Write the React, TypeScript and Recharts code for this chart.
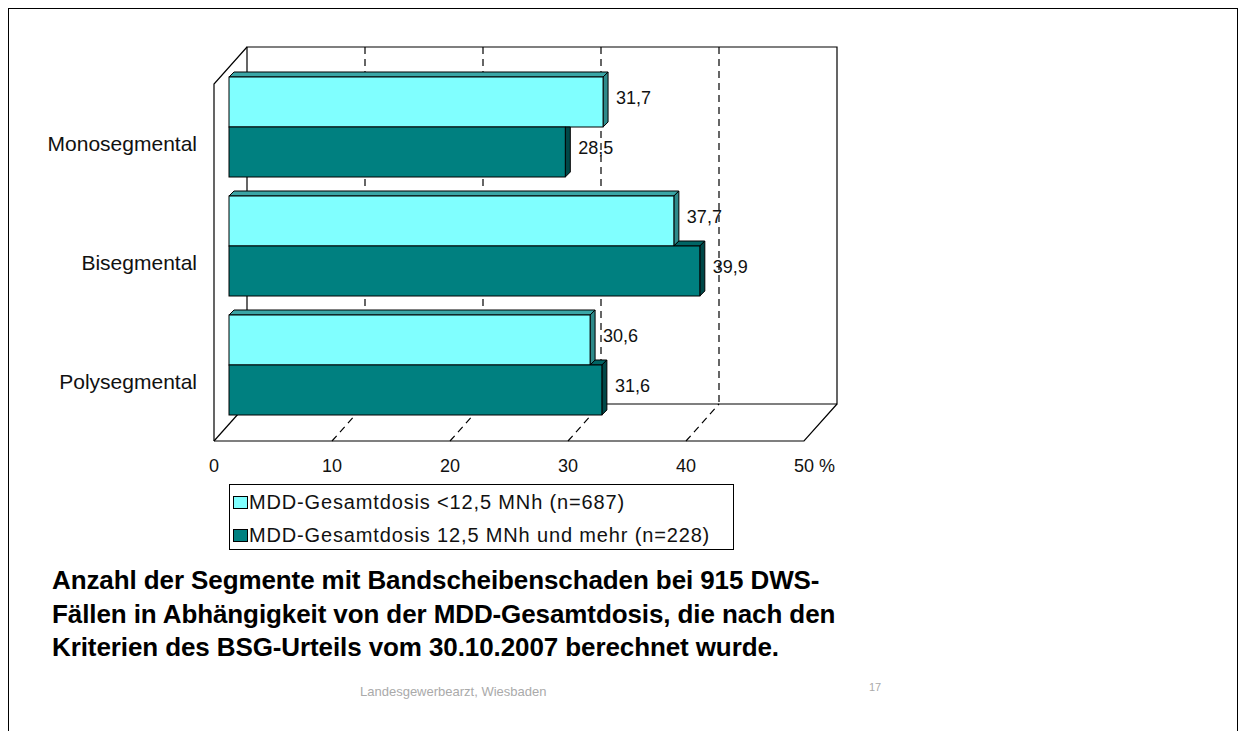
import React from "react";
import {
  BarChart,
  Bar,
  XAxis,
  YAxis,
  LabelList,
  Customized,
} from "recharts";

const CATEGORIES = ["Monosegmental", "Bisegmental", "Polysegmental"];
const LOW_DOSE = [31.7, 37.7, 30.6];
const HIGH_DOSE = [28.5, 39.9, 31.6];
const SERIES_NAMES = [
  "MDD-Gesamtdosis <12,5 MNh (n=687)",
  "MDD-Gesamtdosis 12,5 MNh und mehr (n=228)",
];
const X_TICKS = [0, 10, 20, 30, 40, 50];
const TITLE_LINES = [
  "Anzahl der Segmente mit Bandscheibenschaden bei 915 DWS-",
  "Fällen in Abhängigkeit von der MDD-Gesamtdosis, die nach den",
  "Kriterien des BSG-Urteils vom 30.10.2007 berechnet wurde.",
];
const FOOTER = "Landesgewerbearzt, Wiesbaden";
const PAGE_NO = "17";

const data = CATEGORIES.map((name, i) => ({
  name,
  low: LOW_DOSE[i],
  high: HIGH_DOSE[i],
}));

const FONT = "'Liberation Sans', Arial, sans-serif";

// plot box of the chart (the "middle" depth of the 3d box)
const W = 1243;
const H = 731;
const PLOT = { left: 229, top: 67, width: 590, height: 357 };
const MAX = 50;
const FRONT = { dx: -15, dy: 17 };
const BACK = { dx: 18, dy: -20 };
const DEPTH = 5;

const COLORS = {
  low: { face: "#80ffff", top: "#3aa6a6", side: "#2e8a8a" },
  high: { face: "#008080", top: "#006464", side: "#004848" },
};

const px = (v: number) => PLOT.left + (v / MAX) * PLOT.width;

function Frame() {
  const bTop = PLOT.top + BACK.dy;
  const bBot = PLOT.top + PLOT.height + BACK.dy;
  const fTop = PLOT.top + FRONT.dy;
  const fBot = PLOT.top + PLOT.height + FRONT.dy;
  const bx = (v: number) => px(v) + BACK.dx;
  const fx = (v: number) => px(v) + FRONT.dx;
  const line = { stroke: "#000", strokeWidth: 1.2, fill: "none" };
  const dash = { ...line, strokeDasharray: "7 5" };
  return (
    <g>
      <rect x={bx(0)} y={bTop} width={bx(MAX) - bx(0)} height={bBot - bTop} fill="#fff" />
      {X_TICKS.slice(1, -1).map((v) => (
        <g key={v}>
          <line x1={bx(v)} y1={bTop} x2={bx(v)} y2={bBot} {...dash} />
          <line x1={fx(v)} y1={fBot} x2={bx(v)} y2={bBot} {...dash} />
        </g>
      ))}
      <polyline points={`${bx(0)},${bBot} ${bx(0)},${bTop} ${bx(MAX)},${bTop} ${bx(MAX)},${bBot} ${bx(0)},${bBot}`} {...line} />
      <polyline points={`${fx(0)},${fBot} ${fx(0)},${fTop} ${bx(0)},${bTop}`} {...line} />
      <polyline points={`${fx(0)},${fBot} ${fx(MAX)},${fBot} ${bx(MAX)},${bBot}`} {...line} />
      <line x1={fx(0)} y1={fBot} x2={bx(0)} y2={bBot} {...line} />
    </g>
  );
}

function makeShape(kind: "low" | "high") {
  const c = COLORS[kind];
  return (props: any) => {
    const { x, y, width: w, height: h, payload } = props;
    if (!w || w <= 0) return null;
    const d = DEPTH;
    const stroke = { stroke: "#000", strokeWidth: 1 };
    let topFace: string | null = `${x},${y} ${x + w},${y} ${x + w + d},${y - d} ${x + d},${y - d}`;
    let sideFace = `${x + w},${y} ${x + w + d},${y - d} ${x + w + d},${y + h - d} ${x + w},${y + h}`;
    if (kind === "high") {
      // upper neighbour (low dose bar) hides part of the top face
      const coverEnd = x + (payload.low / payload.high) * w;
      if (coverEnd >= x + w) {
        topFace = null;
        sideFace = `${x + w},${y} ${x + w + d},${y} ${x + w + d},${y + h - d} ${x + w},${y + h}`;
      } else {
        topFace = `${coverEnd},${y} ${x + w},${y} ${x + w + d},${y - d} ${coverEnd + d},${y - d}`;
      }
    }
    return (
      <g>
        {topFace && <polygon points={topFace} fill={c.top} {...stroke} />}
        <polygon points={sideFace} fill={c.side} {...stroke} />
        <rect x={x} y={y} width={w} height={h} fill={c.face} {...stroke} />
      </g>
    );
  };
}

const LowShape = makeShape("low");
const HighShape = makeShape("high");

function ValueLabel(props: any) {
  const vb = props.viewBox || {};
  const x = props.x ?? vb.x;
  const y = props.y ?? vb.y;
  const w = props.width ?? vb.width;
  const h = props.height ?? vb.height;
  return (
    <text
      x={x + w + 13}
      y={y + h / 2 - 4}
      fontSize={18}
      fontFamily={FONT}
      fill="#111"
      dominantBaseline="central"
    >
      {String(props.value).replace(".", ",")}
    </text>
  );
}

function CategoryTick({ x, y, payload }: any) {
  return (
    <text
      x={x - 32}
      y={y + 17}
      textAnchor="end"
      dominantBaseline="central"
      fontSize={21}
      fontFamily={FONT}
      fill="#111"
    >
      {payload.value}
    </text>
  );
}

function ValueTick({ x, y, payload }: any) {
  const last = payload.value === MAX;
  return (
    <text
      x={last ? x + FRONT.dx - 10 : x + FRONT.dx}
      y={y + 42}
      textAnchor={last ? "start" : "middle"}
      dominantBaseline="central"
      fontSize={18}
      fontFamily={FONT}
      fill="#111"
    >
      {last ? `${payload.value} %` : payload.value}
    </text>
  );
}

function LegendBox() {
  const swatch = [COLORS.low.face, COLORS.high.face];
  return (
    <div
      style={{
        position: "absolute",
        left: 229,
        top: 484,
        width: 505,
        height: 66,
        boxSizing: "border-box",
        border: "1px solid #000",
        background: "#fff",
        fontFamily: FONT,
        fontSize: 20,
        letterSpacing: 0.85,
        color: "#111",
      }}
    >
      {SERIES_NAMES.map((name, i) => (
        <div
          key={name}
          style={{
            position: "absolute",
            left: 3,
            top: 4 + i * 33,
            height: 26,
            display: "flex",
            alignItems: "center",
            whiteSpace: "nowrap",
          }}
        >
          <span
            style={{
              display: "inline-block",
              width: 13,
              height: 11,
              background: swatch[i],
              border: "1px solid #000",
              marginRight: 1,
            }}
          />
          {name}
        </div>
      ))}
    </div>
  );
}

export default function App() {
  return (
    <div
      style={{
        position: "absolute",
        left: 0,
        top: 0,
        width: W,
        height: H,
        overflow: "hidden",
        background: "#fff",
      }}
    >
      <div
        style={{
          position: "absolute",
          left: 8,
          top: 8,
          width: 1230,
          height: 760,
          boxSizing: "border-box",
          border: "1px solid #000",
        }}
      />
      <div style={{ position: "absolute", left: 0, top: 0 }}>
        <BarChart
          width={W}
          height={H}
          data={data}
          layout="vertical"
          margin={{
            top: PLOT.top,
            right: W - PLOT.left - PLOT.width,
            bottom: H - PLOT.top - PLOT.height - 40,
            left: PLOT.left - 200,
          }}
          barCategoryGap={10}
          barGap={0}
        >
          <Customized component={Frame} />
          <XAxis
            type="number"
            domain={[0, MAX]}
            ticks={X_TICKS}
            height={40}
            axisLine={false}
            tickLine={false}
            tickSize={0}
            tickMargin={0}
            tick={<ValueTick />}
            interval={0}
          />
          <YAxis
            type="category"
            dataKey="name"
            width={200}
            axisLine={false}
            tickLine={false}
            tickSize={0}
            tickMargin={0}
            tick={<CategoryTick />}
          />
          <Bar dataKey="low" shape={LowShape} isAnimationActive={false}>
            <LabelList dataKey="low" content={<ValueLabel />} />
          </Bar>
          <Bar dataKey="high" shape={HighShape} isAnimationActive={false}>
            <LabelList dataKey="high" content={<ValueLabel />} />
          </Bar>
        </BarChart>
      </div>
      <LegendBox />
      <div
        style={{
          position: "absolute",
          left: 52,
          top: 564,
          fontFamily: FONT,
          fontWeight: "bold",
          fontSize: 26,
          lineHeight: "33.5px",
          letterSpacing: -0.1,
          color: "#000",
          whiteSpace: "pre",
        }}
      >
        {TITLE_LINES.map((l) => (
          <div key={l}>{l}</div>
        ))}
      </div>
      <div
        style={{
          position: "absolute",
          left: 360,
          top: 684,
          fontFamily: FONT,
          fontSize: 13,
          color: "#aaa",
        }}
      >
        {FOOTER}
      </div>
      <div
        style={{
          position: "absolute",
          left: 869,
          top: 681,
          fontFamily: FONT,
          fontSize: 11,
          color: "#aaa",
        }}
      >
        {PAGE_NO}
      </div>
    </div>
  );
}
